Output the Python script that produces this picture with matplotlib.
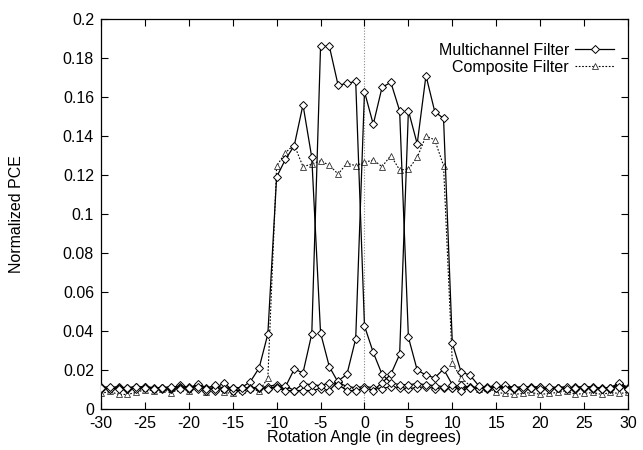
import numpy as np
import matplotlib
matplotlib.use('Agg')
import matplotlib.pyplot as plt

plt.rcParams['font.family'] = ['Liberation Sans', 'DejaVu Sans']

# Rotation angles (degrees)
angles = np.arange(-30, 31)

# Multichannel filter: one curve per channel
mc_ch1 = [0.011, 0.0105, 0.011, 0.0105, 0.0115, 0.011, 0.0105, 0.011, 0.0105, 0.0125,
          0.011, 0.012, 0.0105, 0.011, 0.0105, 0.011, 0.011,
          0.014, 0.021, 0.0385, 0.119, 0.128, 0.135, 0.156, 0.129, 0.039, 0.0217,
          0.0137, 0.0115, 0.011,
          0.0115, 0.011, 0.0105, 0.0115, 0.011, 0.0105, 0.011, 0.0115, 0.0105, 0.011,
          0.011, 0.0105, 0.0115, 0.011, 0.0105, 0.011, 0.0115, 0.011, 0.0105, 0.011,
          0.0115, 0.0105, 0.011, 0.011, 0.0105, 0.0115, 0.011, 0.0105, 0.011, 0.0115, 0.011]
mc_ch2 = [0.0105, 0.011, 0.0115, 0.0105, 0.011, 0.0115, 0.0105, 0.011, 0.011, 0.0115,
          0.0105, 0.013, 0.011, 0.0095, 0.0105, 0.0095, 0.011, 0.0105, 0.011, 0.0115, 0.0125,
          0.0114, 0.0204, 0.0186, 0.0385, 0.186, 0.186, 0.166, 0.167, 0.168, 0.0426,
          0.029, 0.0178, 0.0135, 0.0125,
          0.0125, 0.013, 0.0125, 0.012, 0.0115, 0.011, 0.0125, 0.011, 0.0105, 0.011,
          0.0115, 0.011, 0.0105, 0.011, 0.0115, 0.0105, 0.011, 0.011, 0.0105, 0.0115,
          0.011, 0.0105, 0.011, 0.0105, 0.013, 0.0105]
mc_ch3 = [0.0115, 0.0105, 0.011, 0.011, 0.0105, 0.0115, 0.011, 0.0105, 0.011, 0.011,
          0.0115, 0.0105, 0.0095, 0.0105, 0.0135, 0.0095, 0.0095, 0.011, 0.011, 0.0105,
          0.0115, 0.012, 0.0095, 0.0095, 0.0095, 0.0105, 0.0095,
          0.0144, 0.0178, 0.036, 0.1627, 0.146, 0.165, 0.1675, 0.153, 0.0368, 0.020,
          0.0174, 0.016, 0.0205, 0.0125,
          0.0095, 0.011, 0.0105, 0.0115, 0.011, 0.0125, 0.011, 0.0105, 0.011, 0.0115,
          0.0105, 0.011, 0.0115, 0.0105, 0.011, 0.0115, 0.0105, 0.011, 0.0135, 0.011]
mc_ch4 = [0.011, 0.0115, 0.0105, 0.011, 0.0115, 0.011, 0.0105, 0.011, 0.0115, 0.0105,
          0.011, 0.0115, 0.0105, 0.0125, 0.0105, 0.011, 0.011, 0.0105, 0.0115, 0.0105,
          0.011, 0.0095, 0.0095, 0.013, 0.0125, 0.012, 0.0135, 0.0125, 0.0095, 0.0095,
          0.0105, 0.0095, 0.0135,
          0.0178, 0.028, 0.153, 0.136, 0.171, 0.1525, 0.149, 0.0337, 0.019, 0.0174, 0.012,
          0.011, 0.0125, 0.0105, 0.011, 0.0115, 0.011, 0.0105, 0.0115, 0.011, 0.0105,
          0.011, 0.0115, 0.011, 0.0105, 0.011, 0.0115, 0.0105]
multichannel = [mc_ch1, mc_ch2, mc_ch3, mc_ch4]

# Composite filter
composite = [0.008, 0.009, 0.0075, 0.0075, 0.0085, 0.01, 0.0095, 0.0105, 0.008, 0.011,
             0.009, 0.0115, 0.0085, 0.0105, 0.0085, 0.008, 0.01,
             0.011, 0.009, 0.016, 0.1246, 0.1315, 0.1355, 0.1243, 0.1256, 0.1273, 0.125,
             0.1205, 0.126, 0.1248, 0.1265, 0.1277, 0.1243, 0.130, 0.1226, 0.123, 0.129,
             0.140, 0.138, 0.1248, 0.0234, 0.016, 0.012,
             0.0105, 0.011, 0.0085, 0.008, 0.0075, 0.008, 0.0085, 0.0075, 0.008, 0.0085,
             0.0095, 0.0075, 0.008, 0.0085, 0.0075, 0.0085, 0.008, 0.0085]

x_ticks = np.arange(-30, 31, 5)
y_ticks = np.arange(0, 0.201, 0.02)
y_tick_labels = ['0', '0.02', '0.04', '0.06', '0.08', '0.1', '0.12', '0.14', '0.16', '0.18', '0.2']

fig = plt.figure(figsize=(6.43, 4.5), dpi=100, facecolor='w')
ax = fig.add_axes([0.157, 0.091, 0.8197, 0.8668])

ax.axvline(0, color='#888888', lw=0.8, ls=(0, (1, 1.5)), zorder=1)

for i, ch in enumerate(multichannel):
    ax.plot(angles, ch, color='black', lw=0.9, marker='D', ms=3.8,
            mfc='white', mec='black', mew=0.7, zorder=3,
            label='Multichannel Filter' if i == 0 else None)

ax.plot(angles, composite, color='black', lw=0.8, ls=(0, (1.5, 1.5)), marker='^', ms=4.4,
        mfc='white', mec='#333333', mew=0.6, zorder=2, label='Composite Filter')

ax.set_xlim(-30, 30)
ax.set_ylim(0, 0.2)
ax.set_xticks(x_ticks)
ax.set_xticklabels([str(t) for t in x_ticks])
ax.set_yticks(y_ticks)
ax.set_yticklabels(y_tick_labels)
ax.tick_params(direction='in', top=True, right=True, length=5, width=0.8,
               labelsize=11.5, pad=5)
for spine in ax.spines.values():
    spine.set_linewidth(0.9)

ax.set_xlabel('Rotation Angle (in degrees)', fontsize=11.5, labelpad=-1)
ax.set_ylabel('Normalized PCE', fontsize=11.5, labelpad=28)

leg = ax.legend(loc='upper right', frameon=False, markerfirst=False, fontsize=11.5,
                handlelength=2.4, handletextpad=0.4, labelspacing=0.1,
                bbox_to_anchor=(0.985, 0.955), borderaxespad=0)
for t in leg.get_texts():
    t.set_ha('right')

fig.savefig('out.png', dpi=100)
